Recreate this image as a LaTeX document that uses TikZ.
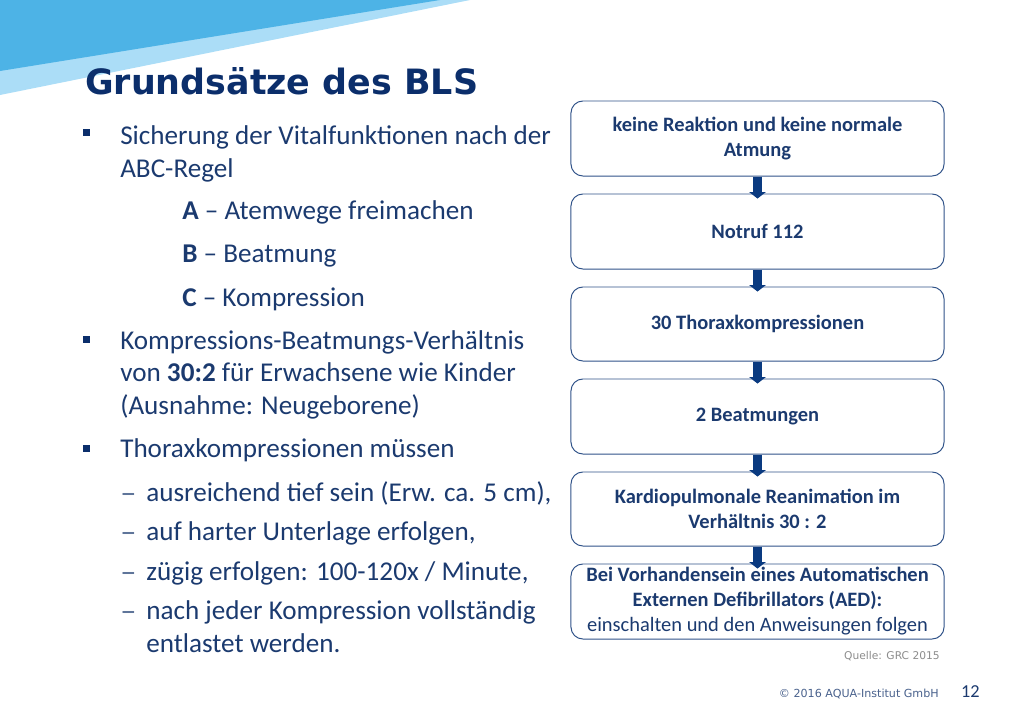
\documentclass[tikz,border=0pt]{standalone}
\usepackage{fontspec}
\usepackage{amsmath, amssymb}
\usepackage{tikz}
\usetikzlibrary{arrows.meta}
\setmainfont{Carlito}
\newfontfamily\titlefont{DejaVu Sans}
\definecolor{bandblue}{HTML}{4DB3E6}
\definecolor{bandlight}{HTML}{ABDDF7}
\definecolor{titleblue}{HTML}{0B2E6B}
\definecolor{textblue}{HTML}{1B3A6F}
\definecolor{boxline}{HTML}{2F5288}
\definecolor{arrowblue}{HTML}{0A3A80}
\tikzset{
  bodytext/.style={anchor=base west,inner sep=0pt,text=textblue,font=\fontsize{19.3}{22}\selectfont},
  dashtext/.style={bodytext,text=textblue!70,font=\fontsize{23}{22}\selectfont},
  flowbox/.style={draw=boxline,line width=0.7pt,rounded corners=8.5pt,minimum width=9.325cm,inner sep=0pt,
    align=center,text=textblue,font=\fontsize{14.55}{17.8}\selectfont\bfseries},
  flowarrow/.style={draw=arrowblue,line width=6pt,-{Triangle[width=11.6pt,length=4.6pt]},shorten >=-3.6pt},
  footertext/.style={anchor=base east,inner sep=0pt,font=\titlefont\fontsize{7.6}{9}\selectfont},
}
\begin{document}
\begin{tikzpicture}[x=0.025cm,y=-0.025cm]
            \useasboundingbox (0,0) rectangle (1024,717);

            %Bandeau
            \fill[bandlight] (0,0) -- (470,0) -- (0,95) -- cycle;
            \fill[bandblue] (0,0) -- (440,0) -- (0,71) -- cycle;

            %Titre
            \node[anchor=base west,inner sep=0pt,text=titleblue,font=\titlefont\fontsize{24.8}{28}\selectfont\bfseries] (title) at (85,94) {Grunds\"atze des BLS};

            %Puces
            \fill[titleblue] (83,129) rectangle (90,136);
            \fill[titleblue] (83,336) rectangle (90,343);
            \fill[titleblue] (83,445) rectangle (90,452);

            %Texte
            \node[bodytext] (l1) at (120,144) {Sicherung der Vitalfunktionen nach der};
            \node[bodytext] (l2) at (120,177) {ABC-Regel};
            \node[bodytext] (l3) at (182,219) {\textbf{A} -- Atemwege freimachen};
            \node[bodytext] (l4) at (182,262) {\textbf{B} -- Beatmung};
            \node[bodytext] (l5) at (182,306) {\textbf{C} -- Kompression};
            \node[bodytext] (l6) at (120,349) {Kompressions-Beatmungs-Verh\"altnis};
            \node[bodytext] (l7) at (120,381) {von \textbf{30:2} f\"ur Erwachsene wie Kinder};
            \node[bodytext] (l8) at (120,414) {(Ausnahme: Neugeborene)};
            \node[bodytext] (l9) at (120,457) {Thoraxkompressionen m\"ussen};

            %Tirets
            \node[dashtext] (d1) at (120,503) {--};
            \node[dashtext] (d2) at (120,542) {--};
            \node[dashtext] (d3) at (120,582) {--};
            \node[dashtext] (d4) at (120,621) {--};
            \node[bodytext] (s1) at (146,501) {ausreichend tief sein (Erw. ca. 5 cm),};
            \node[bodytext] (s2) at (146,540) {auf harter Unterlage erfolgen,};
            \node[bodytext] (s3) at (146,580) {z\"ugig erfolgen: 100-120x / Minute,};
            \node[bodytext] (s4) at (146,619) {nach jeder Kompression vollst\"andig};
            \node[bodytext] (s5) at (146,652) {entlastet werden.};

            %Schema
            \node[flowbox,minimum height=1.875cm] (b1) at (757.5,138.5) {keine Reaktion und keine normale\\Atmung};
            \node[flowbox,minimum height=1.875cm] (b2) at (757.5,231.5) {Notruf 112};
            \node[flowbox,minimum height=1.85cm] (b3) at (757.5,324) {30 Thoraxkompressionen};
            \node[flowbox,minimum height=1.875cm] (b4) at (757.5,416.5) {2 Beatmungen};
            \node[flowbox,minimum height=1.85cm] (b5) at (757.5,509) {Kardiopulmonale Reanimation im\\Verh\"altnis 30 : 2};
            \node[flowbox,minimum height=1.875cm] (b6) at (757.5,601.5) {Bei Vorhandensein eines Automatischen\\Externen Defibrillators (AED):\\\normalfont einschalten und den Anweisungen folgen};

            %Fleches
            \draw[flowarrow] (b1) -- (b2);
            \draw[flowarrow] (b2) -- (b3);
            \draw[flowarrow] (b3) -- (b4);
            \draw[flowarrow] (b4) -- (b5);
            \draw[flowarrow] (b5) -- (b6);

            %Pied de page
            \node[footertext,text=black!45] (source) at (940,659) {Quelle: GRC 2015};
            \node[footertext,text=textblue!80,font=\titlefont\fontsize{7.9}{9}\selectfont] (copyright) at (939,697) {\textcopyright{} 2016 AQUA-Institut GmbH};
            \node[footertext,text=textblue,font=\fontsize{13}{15}\selectfont] (page) at (980,697) {12};

        \end{tikzpicture}
\end{document}
